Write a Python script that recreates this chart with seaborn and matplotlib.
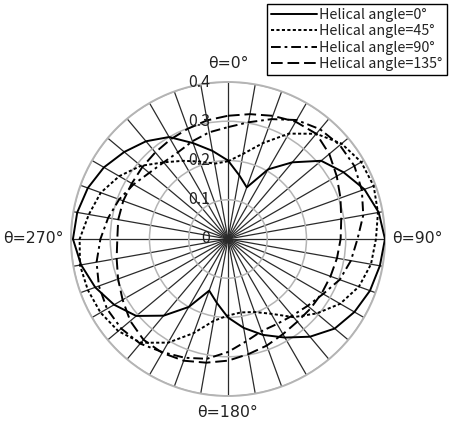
import numpy as np
import pandas as pd
import matplotlib
matplotlib.use("Agg")
import matplotlib.pyplot as plt
import matplotlib.transforms as mtransforms
import seaborn as sns

# Angles (degrees, clockwise from the top) at which each profile is sampled
angles_deg = list(range(0, 360, 10))

series_names = [
    "Helical angle=0°",
    "Helical angle=45°",
    "Helical angle=90°",
    "Helical angle=135°",
]

r_helix_0 = [
    0.200, 0.165, 0.140, 0.205, 0.255, 0.310, 0.340, 0.370, 0.390,
    0.400, 0.393, 0.385, 0.372, 0.355, 0.325, 0.290, 0.260, 0.230,
    0.200, 0.165, 0.140, 0.200, 0.255, 0.305, 0.335, 0.360, 0.380,
    0.395, 0.390, 0.380, 0.365, 0.345, 0.325, 0.300, 0.260, 0.228,
]
r_helix_45 = [
    0.198, 0.220, 0.260, 0.310, 0.350, 0.378, 0.392, 0.395, 0.388,
    0.377, 0.370, 0.355, 0.330, 0.295, 0.260, 0.220, 0.198, 0.190,
    0.195, 0.212, 0.255, 0.305, 0.345, 0.365, 0.375, 0.380, 0.383,
    0.378, 0.360, 0.345, 0.320, 0.290, 0.255, 0.230, 0.210, 0.195,
]
r_helix_90 = [
    0.285, 0.302, 0.325, 0.350, 0.365, 0.372, 0.372, 0.363, 0.350,
    0.330, 0.318, 0.303, 0.280, 0.265, 0.255, 0.250, 0.250, 0.265,
    0.288, 0.310, 0.322, 0.333, 0.348, 0.355, 0.356, 0.350, 0.340,
    0.325, 0.310, 0.295, 0.278, 0.262, 0.255, 0.255, 0.265, 0.276,
]
r_helix_135 = [
    0.314, 0.323, 0.334, 0.345, 0.350, 0.337, 0.320, 0.305, 0.293,
    0.287, 0.282, 0.278, 0.276, 0.275, 0.275, 0.280, 0.289, 0.298,
    0.310, 0.320, 0.330, 0.335, 0.335, 0.325, 0.310, 0.298, 0.288,
    0.282, 0.284, 0.284, 0.283, 0.285, 0.288, 0.293, 0.299, 0.307,
]

radial_ticks = [0, 0.1, 0.2, 0.3, 0.4]
radial_labels = ["0", "0.1", "0.2", "0.3", "0.4"]
direction_labels = ["θ=0°", "θ=90°", "θ=180°", "θ=270°"]

# Long-form table; every profile is closed by repeating its first sample
frames = []
for name, values in zip(series_names, [r_helix_0, r_helix_45, r_helix_90, r_helix_135]):
    th = np.deg2rad(angles_deg + [360])
    rr = values + [values[0]]
    frames.append(pd.DataFrame({"theta": th, "r": rr, "series": name}))
df = pd.concat(frames, ignore_index=True)

sns.set_style("white")
plt.rcParams["font.family"] = ["Noto Sans CJK KR", "DejaVu Sans"]

fig = plt.figure(figsize=(4.49, 4.30), dpi=100)
ax = fig.add_axes([0.1581, 0.0791, 0.6993, 0.7302], projection="polar")
ax.set_theta_zero_location("N")
ax.set_theta_direction(-1)

line_styles = {
    series_names[0]: "",
    series_names[1]: (1.6, 1.2),
    series_names[2]: (5, 2, 1.4, 2),
    series_names[3]: (6, 2.5),
}

sns.lineplot(
    data=df, x="theta", y="r", style="series", dashes=line_styles,
    color="black", linewidth=1.4, sort=False, estimator=None,
    ax=ax, legend=False, zorder=3,
)

ax.set_ylim(0, 0.4)
ax.set_yticks(radial_ticks)
ax.set_yticklabels([])
ax.set_xticks(np.deg2rad(angles_deg))
ax.set_xticklabels([])
ax.set_xlabel("")
ax.set_ylabel("")
ax.xaxis.grid(True, color="#2a2a2a", linewidth=0.9)
ax.yaxis.grid(True, color="#b4b4b4", linewidth=1.1)
ax.spines["polar"].set_color("#b4b4b4")
ax.spines["polar"].set_linewidth(1.4)
ax.set_axisbelow(True)

px = 72 / fig.dpi  # points per pixel

# Radial scale written just left of the top spoke
shift_left = mtransforms.ScaledTranslation(-18 * px / 72, 0, fig.dpi_scale_trans)
for val, lab in zip(radial_ticks, radial_labels):
    ax.text(0, val, lab, transform=ax.transData + shift_left,
            ha="right", va="center", fontsize=11.5, color="#222222", zorder=5)

# Direction labels outside the rim
offsets = [(0, 19), (7, 0), (0, -17), (-7, 0)]
aligns = [("center", "center"), ("left", "center"), ("center", "center"), ("right", "center")]
for k, (lab, (dx, dy), (ha, va)) in enumerate(zip(direction_labels, offsets, aligns)):
    tr = ax.transData + mtransforms.ScaledTranslation(dx * px / 72, dy * px / 72,
                                                      fig.dpi_scale_trans)
    ax.text(np.deg2rad(90 * k), 0.4, lab, transform=tr, ha=ha, va=va,
            fontsize=11.3, color="#222222", family=["DejaVu Sans"])

handles = []
for n in series_names:
    h = plt.Line2D([], [], color="black", linewidth=1.4, linestyle="-")
    if line_styles[n]:
        h.set_dashes(line_styles[n])
    handles.append(h)
leg = fig.legend(
    handles, series_names, loc="upper right",
    bbox_to_anchor=(447 / 449, 1 - 4 / 430), bbox_transform=fig.transFigure,
    frameon=True, fancybox=False, edgecolor="black", framealpha=1,
    fontsize=10.3, handlelength=3.2, handletextpad=0.2, labelspacing=0.15,
    borderpad=0.3, borderaxespad=0,
)
leg.get_frame().set_linewidth(1.0)
for t in leg.get_texts():
    t.set_color("#222222")

fig.savefig("out.png", dpi=100)
